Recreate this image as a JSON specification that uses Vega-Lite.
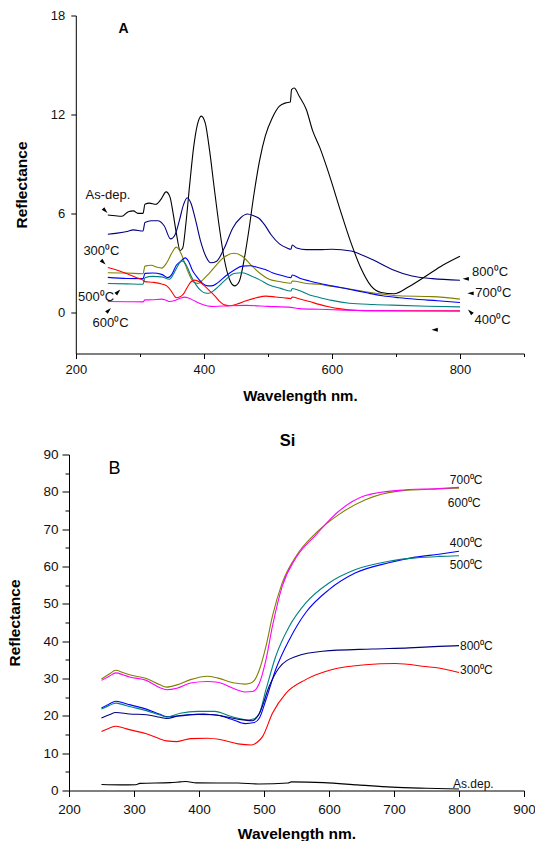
{
  "$schema": "https://vega.github.io/schema/vega-lite/v6.json",
  "padding": {"left": 7, "top": 9.5, "right": 0, "bottom": 0},
  "spacing": 29,
  "config": {
    "view": {"stroke": null},
    "font": "Liberation Sans",
    "axis": {"grid": false, "domainColor": "#000", "tickColor": "#000", "labelColor": "#111", "titleColor": "#000", "labelFont": "Liberation Sans", "titleFont": "Liberation Sans", "domainWidth": 1, "tickWidth": 1, "labelFlush": false, "labelOverlap": false, "minExtent": 0},
    "text": {"font": "Liberation Sans"}
  },
  "datasets": {
    "A": [
      {"s":"As-dep","wl":250,"R":5.9},{"s":"As-dep","wl":262,"R":5.85},{"s":"As-dep","wl":272,"R":5.82},{"s":"As-dep","wl":282,"R":6.1},{"s":"As-dep","wl":290,"R":6.15},{"s":"As-dep","wl":297,"R":6.0},{"s":"As-dep","wl":305,"R":6.0},{"s":"As-dep","wl":308,"R":6.55},{"s":"As-dep","wl":315,"R":6.62},{"s":"As-dep","wl":325,"R":6.55},{"s":"As-dep","wl":333,"R":6.85},{"s":"As-dep","wl":341,"R":7.3},{"s":"As-dep","wl":347,"R":7.0},{"s":"As-dep","wl":352,"R":6.0},{"s":"As-dep","wl":357,"R":4.8},{"s":"As-dep","wl":363,"R":3.75},{"s":"As-dep","wl":367,"R":3.9},{"s":"As-dep","wl":372,"R":5.4},{"s":"As-dep","wl":378,"R":7.8},{"s":"As-dep","wl":384,"R":10.0},{"s":"As-dep","wl":390,"R":11.4},{"s":"As-dep","wl":396,"R":11.9},{"s":"As-dep","wl":402,"R":11.5},{"s":"As-dep","wl":409,"R":9.8},{"s":"As-dep","wl":416,"R":7.6},{"s":"As-dep","wl":424,"R":5.2},{"s":"As-dep","wl":432,"R":3.2},{"s":"As-dep","wl":440,"R":2.0},{"s":"As-dep","wl":448,"R":1.6},{"s":"As-dep","wl":455,"R":1.85},{"s":"As-dep","wl":462,"R":3.0},{"s":"As-dep","wl":470,"R":4.9},{"s":"As-dep","wl":478,"R":7.1},{"s":"As-dep","wl":487,"R":9.2},{"s":"As-dep","wl":496,"R":10.7},{"s":"As-dep","wl":507,"R":11.8},{"s":"As-dep","wl":518,"R":12.5},{"s":"As-dep","wl":528,"R":12.7},{"s":"As-dep","wl":535,"R":12.75},{"s":"As-dep","wl":537,"R":13.5},{"s":"As-dep","wl":541,"R":13.6},{"s":"As-dep","wl":549,"R":13.1},{"s":"As-dep","wl":560,"R":12.3},{"s":"As-dep","wl":570,"R":11.0},{"s":"As-dep","wl":581,"R":10.0},{"s":"As-dep","wl":597,"R":8.2},{"s":"As-dep","wl":613,"R":6.2},{"s":"As-dep","wl":629,"R":4.3},{"s":"As-dep","wl":645,"R":2.7},{"s":"As-dep","wl":661,"R":1.6},{"s":"As-dep","wl":677,"R":1.2},{"s":"As-dep","wl":697,"R":1.12},{"s":"As-dep","wl":720,"R":1.55},{"s":"As-dep","wl":747,"R":2.2},{"s":"As-dep","wl":773,"R":2.85},{"s":"As-dep","wl":800,"R":3.4},
      {"s":"800","wl":250,"R":4.73},{"s":"800","wl":265,"R":4.8},{"s":"800","wl":280,"R":4.9},{"s":"800","wl":290,"R":5.0},{"s":"800","wl":305,"R":4.93},{"s":"800","wl":308,"R":5.45},{"s":"800","wl":318,"R":5.55},{"s":"800","wl":328,"R":5.55},{"s":"800","wl":338,"R":5.25},{"s":"800","wl":348,"R":4.45},{"s":"800","wl":355,"R":4.7},{"s":"800","wl":362,"R":5.6},{"s":"800","wl":368,"R":6.5},{"s":"800","wl":374,"R":6.95},{"s":"800","wl":380,"R":6.6},{"s":"800","wl":387,"R":5.6},{"s":"800","wl":395,"R":4.3},{"s":"800","wl":403,"R":3.4},{"s":"800","wl":411,"R":3.0},{"s":"800","wl":420,"R":3.1},{"s":"800","wl":432,"R":3.9},{"s":"800","wl":445,"R":5.1},{"s":"800","wl":458,"R":5.75},{"s":"800","wl":468,"R":5.96},{"s":"800","wl":478,"R":5.85},{"s":"800","wl":486,"R":5.7},{"s":"800","wl":495,"R":5.3},{"s":"800","wl":505,"R":4.7},{"s":"800","wl":518,"R":4.15},{"s":"800","wl":530,"R":3.9},{"s":"800","wl":536,"R":3.82},{"s":"800","wl":538,"R":4.08},{"s":"800","wl":545,"R":3.9},{"s":"800","wl":560,"R":3.8},{"s":"800","wl":580,"R":3.8},{"s":"800","wl":600,"R":3.82},{"s":"800","wl":630,"R":3.72},{"s":"800","wl":645,"R":3.5},{"s":"800","wl":663,"R":3.2},{"s":"800","wl":694,"R":2.6},{"s":"800","wl":725,"R":2.2},{"s":"800","wl":757,"R":2.04},{"s":"800","wl":800,"R":1.94},
      {"s":"600","wl":250,"R":2.4},{"s":"600","wl":280,"R":2.38},{"s":"600","wl":305,"R":2.34},{"s":"600","wl":308,"R":2.8},{"s":"600","wl":318,"R":2.85},{"s":"600","wl":326,"R":2.75},{"s":"600","wl":334,"R":2.68},{"s":"600","wl":342,"R":3.0},{"s":"600","wl":350,"R":3.6},{"s":"600","wl":357,"R":3.95},{"s":"600","wl":364,"R":3.6},{"s":"600","wl":370,"R":3.0},{"s":"600","wl":377,"R":2.3},{"s":"600","wl":385,"R":1.8},{"s":"600","wl":391,"R":1.75},{"s":"600","wl":398,"R":1.95},{"s":"600","wl":408,"R":2.35},{"s":"600","wl":418,"R":2.8},{"s":"600","wl":432,"R":3.35},{"s":"600","wl":447,"R":3.58},{"s":"600","wl":460,"R":3.4},{"s":"600","wl":474,"R":2.85},{"s":"600","wl":488,"R":2.35},{"s":"600","wl":502,"R":2.0},{"s":"600","wl":520,"R":1.85},{"s":"600","wl":536,"R":1.76},{"s":"600","wl":538,"R":1.9},{"s":"600","wl":560,"R":1.75},{"s":"600","wl":580,"R":1.7},{"s":"600","wl":601,"R":1.56},{"s":"600","wl":630,"R":1.4},{"s":"600","wl":653,"R":1.25},{"s":"600","wl":680,"R":1.1},{"s":"600","wl":705,"R":1.0},{"s":"600","wl":757,"R":0.95},{"s":"600","wl":800,"R":0.8},
      {"s":"400","wl":250,"R":2.12},{"s":"400","wl":280,"R":2.05},{"s":"400","wl":305,"R":2.04},{"s":"400","wl":308,"R":2.36},{"s":"400","wl":320,"R":2.38},{"s":"400","wl":334,"R":2.3},{"s":"400","wl":344,"R":2.1},{"s":"400","wl":350,"R":2.3},{"s":"400","wl":357,"R":2.85},{"s":"400","wl":364,"R":3.1},{"s":"400","wl":371,"R":3.3},{"s":"400","wl":376,"R":3.1},{"s":"400","wl":382,"R":2.55},{"s":"400","wl":390,"R":2.1},{"s":"400","wl":398,"R":1.75},{"s":"400","wl":406,"R":1.6},{"s":"400","wl":412,"R":1.6},{"s":"400","wl":422,"R":1.8},{"s":"400","wl":434,"R":2.2},{"s":"400","wl":447,"R":2.55},{"s":"400","wl":460,"R":2.8},{"s":"400","wl":472,"R":2.82},{"s":"400","wl":486,"R":2.7},{"s":"400","wl":496,"R":2.6},{"s":"400","wl":507,"R":2.4},{"s":"400","wl":520,"R":2.25},{"s":"400","wl":536,"R":2.1},{"s":"400","wl":538,"R":2.26},{"s":"400","wl":550,"R":2.06},{"s":"400","wl":565,"R":1.9},{"s":"400","wl":580,"R":1.76},{"s":"400","wl":600,"R":1.6},{"s":"400","wl":627,"R":1.4},{"s":"400","wl":652,"R":1.2},{"s":"400","wl":679,"R":1.0},{"s":"400","wl":705,"R":0.88},{"s":"400","wl":731,"R":0.79},{"s":"400","wl":765,"R":0.7},{"s":"400","wl":800,"R":0.59},
      {"s":"500","wl":250,"R":1.75},{"s":"500","wl":280,"R":1.72},{"s":"500","wl":305,"R":1.7},{"s":"500","wl":308,"R":2.1},{"s":"500","wl":320,"R":2.18},{"s":"500","wl":334,"R":2.15},{"s":"500","wl":346,"R":2.0},{"s":"500","wl":355,"R":2.5},{"s":"500","wl":362,"R":3.0},{"s":"500","wl":366,"R":3.12},{"s":"500","wl":372,"R":2.9},{"s":"500","wl":380,"R":2.2},{"s":"500","wl":388,"R":1.65},{"s":"500","wl":396,"R":1.3},{"s":"500","wl":402,"R":1.17},{"s":"500","wl":408,"R":1.15},{"s":"500","wl":418,"R":1.4},{"s":"500","wl":432,"R":1.9},{"s":"500","wl":447,"R":2.35},{"s":"500","wl":460,"R":2.4},{"s":"500","wl":474,"R":2.2},{"s":"500","wl":488,"R":1.95},{"s":"500","wl":502,"R":1.65},{"s":"500","wl":520,"R":1.45},{"s":"500","wl":536,"R":1.29},{"s":"500","wl":538,"R":1.44},{"s":"500","wl":550,"R":1.3},{"s":"500","wl":565,"R":1.05},{"s":"500","wl":580,"R":0.9},{"s":"500","wl":600,"R":0.72},{"s":"500","wl":627,"R":0.55},{"s":"500","wl":665,"R":0.47},{"s":"500","wl":705,"R":0.42},{"s":"500","wl":750,"R":0.37},{"s":"500","wl":800,"R":0.33},
      {"s":"300","wl":250,"R":2.72},{"s":"300","wl":265,"R":2.55},{"s":"300","wl":282,"R":2.3},{"s":"300","wl":295,"R":2.1},{"s":"300","wl":305,"R":1.95},{"s":"300","wl":308,"R":1.86},{"s":"300","wl":320,"R":1.82},{"s":"300","wl":334,"R":1.72},{"s":"300","wl":342,"R":1.6},{"s":"300","wl":348,"R":1.35},{"s":"300","wl":353,"R":1.05},{"s":"300","wl":357,"R":0.88},{"s":"300","wl":362,"R":0.92},{"s":"300","wl":368,"R":1.1},{"s":"300","wl":374,"R":1.5},{"s":"300","wl":380,"R":1.85},{"s":"300","wl":386,"R":1.95},{"s":"300","wl":393,"R":1.85},{"s":"300","wl":401,"R":1.6},{"s":"300","wl":409,"R":1.3},{"s":"300","wl":417,"R":1.0},{"s":"300","wl":425,"R":0.65},{"s":"300","wl":432,"R":0.45},{"s":"300","wl":440,"R":0.4},{"s":"300","wl":452,"R":0.5},{"s":"300","wl":466,"R":0.7},{"s":"300","wl":482,"R":0.88},{"s":"300","wl":497,"R":0.98},{"s":"300","wl":512,"R":0.93},{"s":"300","wl":525,"R":0.88},{"s":"300","wl":536,"R":0.83},{"s":"300","wl":538,"R":0.93},{"s":"300","wl":550,"R":0.8},{"s":"300","wl":565,"R":0.65},{"s":"300","wl":580,"R":0.48},{"s":"300","wl":595,"R":0.34},{"s":"300","wl":611,"R":0.22},{"s":"300","wl":630,"R":0.14},{"s":"300","wl":653,"R":0.1},{"s":"300","wl":700,"R":0.09},{"s":"300","wl":800,"R":0.09},
      {"s":"700","wl":250,"R":0.65},{"s":"700","wl":280,"R":0.64},{"s":"700","wl":305,"R":0.63},{"s":"700","wl":308,"R":0.75},{"s":"700","wl":320,"R":0.76},{"s":"700","wl":334,"R":0.8},{"s":"700","wl":340,"R":0.75},{"s":"700","wl":347,"R":0.65},{"s":"700","wl":355,"R":0.72},{"s":"700","wl":363,"R":0.85},{"s":"700","wl":370,"R":0.92},{"s":"700","wl":376,"R":0.87},{"s":"700","wl":386,"R":0.68},{"s":"700","wl":396,"R":0.5},{"s":"700","wl":406,"R":0.38},{"s":"700","wl":416,"R":0.35},{"s":"700","wl":440,"R":0.4},{"s":"700","wl":466,"R":0.42},{"s":"700","wl":500,"R":0.36},{"s":"700","wl":536,"R":0.3},{"s":"700","wl":549,"R":0.22},{"s":"700","wl":580,"R":0.18},{"s":"700","wl":620,"R":0.13},{"s":"700","wl":653,"R":0.1},{"s":"700","wl":720,"R":0.08},{"s":"700","wl":800,"R":0.07}
    ],
    "labA": [
      {"t":"As-dep.","wl":250.3,"R":7.14},
      {"t":"300⁰C","wl":240,"R":3.72},
      {"t":"500⁰C","wl":231.6,"R":0.93},
      {"t":"600⁰C","wl":254.2,"R":-0.64},
      {"t":"800⁰C","wl":847,"R":2.44},
      {"t":"700⁰C","wl":852,"R":1.15},
      {"t":"400⁰C","wl":851,"R":-0.48}
    ],
    "arrA": [
      {"dir":"dr","wl":246,"R":6.16},
      {"dir":"dr","wl":243,"R":3.03},
      {"dir":"ur","wl":266,"R":1.24},
      {"dir":"ur","wl":251.4,"R":0.12},
      {"dir":"l","wl":809,"R":2.03},
      {"dir":"l","wl":816.5,"R":1.15},
      {"dir":"ul","wl":816,"R":0.03},
      {"dir":"l","wl":760.5,"R":-1.06}
    ],
    "B": [
      {"s":"600","wl":250,"R":29.85},{"s":"600","wl":262,"R":31.2},{"s":"600","wl":272,"R":32.2},{"s":"600","wl":283,"R":31.6},{"s":"600","wl":293,"R":31.0},{"s":"600","wl":319,"R":30.0},{"s":"600","wl":340,"R":28.3},{"s":"600","wl":350,"R":27.7},{"s":"600","wl":366,"R":28.3},{"s":"600","wl":387,"R":29.7},{"s":"600","wl":413,"R":30.6},{"s":"600","wl":429,"R":30.1},{"s":"600","wl":455,"R":28.8},{"s":"600","wl":471,"R":28.5},{"s":"600","wl":480,"R":28.8},{"s":"600","wl":486,"R":29.7},{"s":"600","wl":493,"R":32.4},{"s":"600","wl":503,"R":38.6},{"s":"600","wl":513,"R":46.7},{"s":"600","wl":528,"R":55.6},{"s":"600","wl":549,"R":62.7},{"s":"600","wl":580,"R":69.0},{"s":"600","wl":615,"R":73.9},{"s":"600","wl":656,"R":77.9},{"s":"600","wl":707,"R":80.2},{"s":"600","wl":769,"R":80.8},{"s":"600","wl":800,"R":81.0},
      {"s":"700","wl":250,"R":29.5},{"s":"700","wl":262,"R":30.6},{"s":"700","wl":272,"R":31.5},{"s":"700","wl":283,"R":31.0},{"s":"700","wl":293,"R":30.4},{"s":"700","wl":319,"R":29.5},{"s":"700","wl":340,"R":27.5},{"s":"700","wl":350,"R":27.0},{"s":"700","wl":366,"R":27.4},{"s":"700","wl":387,"R":28.8},{"s":"700","wl":413,"R":29.2},{"s":"700","wl":429,"R":29.0},{"s":"700","wl":455,"R":27.2},{"s":"700","wl":471,"R":26.4},{"s":"700","wl":482,"R":26.5},{"s":"700","wl":493,"R":28.8},{"s":"700","wl":503,"R":35.0},{"s":"700","wl":513,"R":44.0},{"s":"700","wl":528,"R":54.7},{"s":"700","wl":549,"R":62.3},{"s":"700","wl":580,"R":68.5},{"s":"700","wl":615,"R":74.8},{"s":"700","wl":656,"R":79.0},{"s":"700","wl":707,"R":80.4},{"s":"700","wl":769,"R":80.9},{"s":"700","wl":800,"R":81.2},
      {"s":"400","wl":250,"R":22.1},{"s":"400","wl":262,"R":23.2},{"s":"400","wl":272,"R":23.9},{"s":"400","wl":283,"R":23.5},{"s":"400","wl":293,"R":23.0},{"s":"400","wl":319,"R":21.8},{"s":"400","wl":340,"R":20.4},{"s":"400","wl":350,"R":19.8},{"s":"400","wl":371,"R":20.0},{"s":"400","wl":398,"R":20.4},{"s":"400","wl":424,"R":20.3},{"s":"400","wl":450,"R":19.1},{"s":"400","wl":471,"R":17.9},{"s":"400","wl":485,"R":18.2},{"s":"400","wl":493,"R":19.4},{"s":"400","wl":503,"R":24.3},{"s":"400","wl":518,"R":32.4},{"s":"400","wl":539,"R":40.4},{"s":"400","wl":564,"R":47.6},{"s":"400","wl":600,"R":53.8},{"s":"400","wl":641,"R":58.3},{"s":"400","wl":692,"R":61.0},{"s":"400","wl":733,"R":62.5},{"s":"400","wl":769,"R":63.3},{"s":"400","wl":800,"R":64.1},
      {"s":"500","wl":250,"R":21.8},{"s":"500","wl":262,"R":22.8},{"s":"500","wl":272,"R":23.4},{"s":"500","wl":283,"R":23.0},{"s":"500","wl":293,"R":22.5},{"s":"500","wl":319,"R":21.4},{"s":"500","wl":340,"R":20.2},{"s":"500","wl":350,"R":19.7},{"s":"500","wl":371,"R":20.7},{"s":"500","wl":398,"R":21.2},{"s":"500","wl":424,"R":21.2},{"s":"500","wl":450,"R":19.8},{"s":"500","wl":476,"R":18.9},{"s":"500","wl":485,"R":19.2},{"s":"500","wl":493,"R":20.7},{"s":"500","wl":503,"R":27.0},{"s":"500","wl":518,"R":35.9},{"s":"500","wl":539,"R":44.0},{"s":"500","wl":564,"R":50.2},{"s":"500","wl":600,"R":55.6},{"s":"500","wl":641,"R":59.2},{"s":"500","wl":692,"R":61.4},{"s":"500","wl":733,"R":62.3},{"s":"500","wl":769,"R":62.7},{"s":"500","wl":800,"R":62.9},
      {"s":"800","wl":250,"R":19.4},{"s":"800","wl":262,"R":20.3},{"s":"800","wl":272,"R":20.9},{"s":"800","wl":293,"R":20.5},{"s":"800","wl":319,"R":20.3},{"s":"800","wl":340,"R":19.6},{"s":"800","wl":350,"R":19.3},{"s":"800","wl":371,"R":20.1},{"s":"800","wl":408,"R":20.5},{"s":"800","wl":434,"R":20.0},{"s":"800","wl":460,"R":19.1},{"s":"800","wl":482,"R":18.7},{"s":"800","wl":493,"R":20.7},{"s":"800","wl":508,"R":27.9},{"s":"800","wl":523,"R":32.8},{"s":"800","wl":549,"R":35.9},{"s":"800","wl":590,"R":37.3},{"s":"800","wl":666,"R":37.9},{"s":"800","wl":723,"R":38.2},{"s":"800","wl":769,"R":38.6},{"s":"800","wl":800,"R":38.8},
      {"s":"300","wl":250,"R":15.8},{"s":"300","wl":262,"R":16.7},{"s":"300","wl":272,"R":17.2},{"s":"300","wl":283,"R":16.8},{"s":"300","wl":293,"R":16.3},{"s":"300","wl":319,"R":15.2},{"s":"300","wl":340,"R":13.8},{"s":"300","wl":350,"R":13.3},{"s":"300","wl":366,"R":13.1},{"s":"300","wl":387,"R":13.9},{"s":"300","wl":413,"R":14.0},{"s":"300","wl":434,"R":13.6},{"s":"300","wl":460,"R":12.5},{"s":"300","wl":481,"R":12.2},{"s":"300","wl":490,"R":13.0},{"s":"300","wl":498,"R":14.5},{"s":"300","wl":513,"R":20.7},{"s":"300","wl":534,"R":26.1},{"s":"300","wl":564,"R":29.7},{"s":"300","wl":605,"R":32.4},{"s":"300","wl":656,"R":33.7},{"s":"300","wl":702,"R":34.0},{"s":"300","wl":749,"R":33.2},{"s":"300","wl":769,"R":32.8},{"s":"300","wl":800,"R":31.6},
      {"s":"As-dep","wl":250,"R":1.6},{"s":"As-dep","wl":280,"R":1.5},{"s":"As-dep","wl":303,"R":1.55},{"s":"As-dep","wl":309,"R":1.9},{"s":"As-dep","wl":356,"R":2.1},{"s":"As-dep","wl":371,"R":2.3},{"s":"As-dep","wl":380,"R":2.4},{"s":"As-dep","wl":396,"R":2.05},{"s":"As-dep","wl":460,"R":2.0},{"s":"As-dep","wl":492,"R":1.75},{"s":"As-dep","wl":537,"R":2.0},{"s":"As-dep","wl":542,"R":2.3},{"s":"As-dep","wl":592,"R":2.1},{"s":"As-dep","wl":644,"R":1.5},{"s":"As-dep","wl":697,"R":0.9},{"s":"As-dep","wl":750,"R":0.6},{"s":"As-dep","wl":800,"R":0.4}
    ],
    "labB": [
      {"t":"700⁰C","wl":811,"R":83.3},
      {"t":"600⁰C","wl":808,"R":77.1},
      {"t":"400⁰C","wl":811,"R":66.3},
      {"t":"500⁰C","wl":811,"R":60.5},
      {"t":"800⁰C","wl":826.7,"R":38.6},
      {"t":"300⁰C","wl":826.7,"R":32.2},
      {"t":"As.dep.","wl":822,"R":1.8}
    ]
  },
  "vconcat": [
    {
      "width": 455,
      "height": 338,
      "layer": [
        {
          "data": {"name": "A"},
          "mark": {"type": "line", "interpolate": "monotone", "strokeWidth": 1.1},
          "encoding": {
            "x": {"field": "wl", "type": "quantitative", "scale": {"domain": [200, 900], "nice": false, "zero": false, "rangeMin": 6.8},
              "axis": {"title": "Wavelength nm.", "values": [200,300,400,500,600,700,800,900], "labelExpr": "datum.value % 200 === 0 && datum.value < 900 ? datum.label : ''", "tickSize": {"condition": {"test": "datum.value % 200 === 0", "value": 5}, "value": 3}, "labelFontSize": 13, "labelPadding": 5, "titleFontSize": 15, "titleFontWeight": "bold", "titlePadding": 12, "labelOverlap": false}},
            "y": {"field": "R", "type": "quantitative", "scale": {"domain": [-2.5, 18], "nice": false, "zero": false},
              "axis": {"title": "Reflectance", "values": [0, 6, 12, 18], "tickSize": 5, "labelPadding": 6, "labelFontSize": 13, "titleFontSize": 15.5, "titleFontWeight": "bold", "titlePadding": 21, "offset": -6.8, "labelOverlap": false}},
            "color": {"field": "s", "type": "nominal", "legend": null, "scale": {"domain": ["As-dep","300","400","500","600","700","800"], "range": ["#000000","#ff0000","#0000ff","#008080","#808000","#ff00ff","#000080"]}}
          }
        },
        {
          "data": {"name": "labA"},
          "mark": {"type": "text", "fontSize": 13, "color": "#111", "align": "center", "baseline": "middle"},
          "encoding": {
            "x": {"field": "wl", "type": "quantitative"},
            "y": {"field": "R", "type": "quantitative"},
            "text": {"field": "t"}
          }
        },
        {
          "data": {"name": "arrA"},
          "mark": {"type": "point", "filled": true, "color": "#000", "size": 40, "opacity": 1, "strokeWidth": 0},
          "encoding": {
            "x": {"field": "wl", "type": "quantitative"},
            "y": {"field": "R", "type": "quantitative"},
            "shape": {"field": "dir", "type": "nominal", "legend": null, "scale": {"domain": ["dr", "ur", "l", "ul"], "range": ["M0.71,0.71L-0.29,-1.13L-1.13,-0.29Z", "M0.71,-0.71L-0.29,1.13L-1.13,0.29Z", "M-1,0L1,-0.6L1,0.6Z", "M-0.71,-0.71L1.13,0.29L0.29,1.13Z"]}}
          }
        },
        {
          "data": {"values": [{"t": "A", "wl": 274.5, "R": 17.17}]},
          "mark": {"type": "text", "fontSize": 14, "fontWeight": "bold", "color": "#000", "align": "center", "baseline": "middle"},
          "encoding": {
            "x": {"field": "wl", "type": "quantitative"},
            "y": {"field": "R", "type": "quantitative"},
            "text": {"field": "t"}
          }
        }
      ]
    },
    {
      "width": 455,
      "height": 336,
      "title": {"text": "Si", "fontSize": 16.5, "fontWeight": "bold", "offset": -2, "dx": -9, "frame": "group", "color": "#000"},
      "resolve": {"axis": {"y": "independent"}},
      "layer": [
        {
          "data": {"name": "B"},
          "mark": {"type": "line", "interpolate": "monotone", "strokeWidth": 1.1},
          "encoding": {
            "x": {"field": "wl", "type": "quantitative", "scale": {"domain": [200, 900], "nice": false, "zero": false},
              "axis": {"title": "Wavelength nm.", "values": [200,250,300,350,400,450,500,550,600,650,700,750,800,850,900], "labelExpr": "datum.value % 100 === 0 ? datum.label : ''", "tickSize": {"condition": {"test": "datum.value % 100 === 0", "value": 6}, "value": 3.5}, "labelFontSize": 13.5, "labelPadding": 5.5, "titleFontSize": 15.5, "titleFontWeight": "bold", "titlePadding": 11, "labelOverlap": false}},
            "y": {"field": "R", "type": "quantitative", "scale": {"domain": [0, 90], "nice": false, "zero": false},
              "axis": {"orient": "left", "title": "Reflectance", "values": [0,10,20,30,40,50,60,70,80,90], "tickSize": 7, "labelPadding": 4, "labelFontSize": 13.5, "titleFontSize": 15.5, "titleFontWeight": "bold", "titlePadding": 20.5, "labelOverlap": false}},
            "color": {"field": "s", "type": "nominal", "legend": null, "scale": {"domain": ["As-dep","300","400","500","600","700","800"], "range": ["#000000","#ff0000","#0000ff","#008080","#808000","#ff00ff","#000080"]}}
          }
        },
        {
          "data": {"name": "labB"},
          "mark": {"type": "text", "fontSize": 12, "color": "#111", "align": "center", "baseline": "middle"},
          "encoding": {
            "x": {"field": "wl", "type": "quantitative"},
            "y": {"field": "R", "type": "quantitative", "axis": {"orient": "left", "title": null, "labels": false, "domain": false, "values": [5,15,25,35,45,55,65,75,85], "tickSize": 4}},
            "text": {"field": "t"}
          }
        },
        {
          "data": {"values": [{"t": "B", "wl": 270, "R": 86}]},
          "mark": {"type": "text", "fontSize": 18, "color": "#000", "align": "center", "baseline": "middle"},
          "encoding": {
            "x": {"field": "wl", "type": "quantitative"},
            "y": {"field": "R", "type": "quantitative", "axis": null},
            "text": {"field": "t"}
          }
        }
      ]
    }
  ]
}
